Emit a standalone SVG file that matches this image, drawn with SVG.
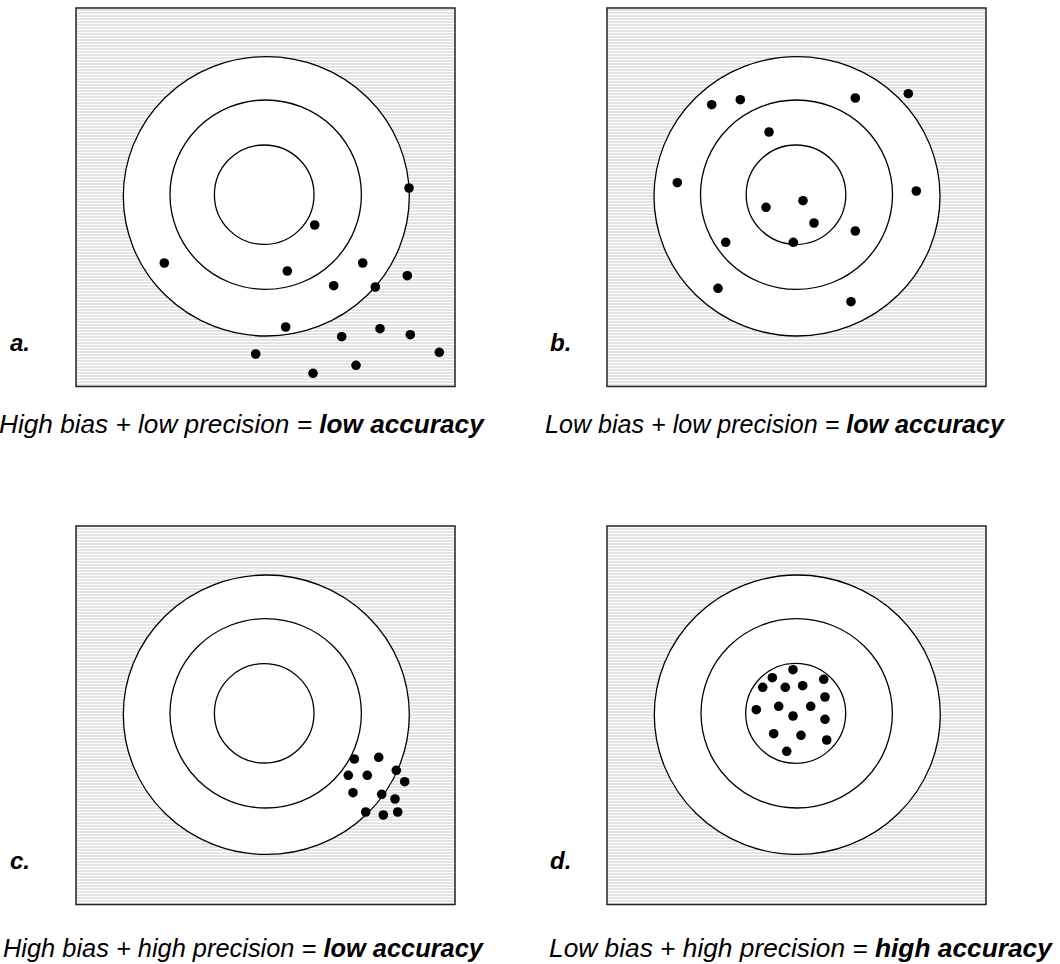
<svg xmlns="http://www.w3.org/2000/svg" width="1060" height="964" viewBox="0 0 1060 964">
<style>
.box{fill:url(#stripes);stroke:#222;stroke-width:1.5}
.ring{fill:#fff;stroke:#000;stroke-width:1.3}
.dot{fill:#000}
.lbl{font-family:"Liberation Sans",Arial,sans-serif;font-size:24px;font-weight:bold;font-style:italic;fill:#000}
.cap{font-family:"Liberation Sans",Arial,sans-serif;font-size:25px;font-style:italic;fill:#000}
.cap .b{font-weight:bold}
</style>
<defs>
<pattern id="stripes" patternUnits="userSpaceOnUse" x="0" y="0" width="10" height="3">
<rect width="10" height="3" fill="#e4e4e4"/>
<rect y="2" width="10" height="1" fill="#ffffff"/>
</pattern>
</defs>
<rect width="1060" height="964" fill="#fff"/>
<g id="panel-a">
<rect class="box" x="76" y="8" width="379" height="378.5"/>
<ellipse class="ring" cx="266.3" cy="196.3" rx="143" ry="139.7"/>
<ellipse class="ring" cx="265.7" cy="194.7" rx="95.7" ry="94.7"/>
<ellipse class="ring" cx="264.2" cy="194.7" rx="49.8" ry="49.7"/>
<g class="dot">
<circle cx="409" cy="188" r="4.8"/><circle cx="314.7" cy="225" r="4.8"/><circle cx="164.3" cy="263" r="4.8"/>
<circle cx="287.3" cy="271" r="4.8"/><circle cx="362.7" cy="263" r="4.8"/><circle cx="407.3" cy="275.7" r="4.8"/>
<circle cx="333.7" cy="285.7" r="4.8"/><circle cx="375.3" cy="287" r="4.8"/><circle cx="285.7" cy="327" r="4.8"/>
<circle cx="380" cy="328.7" r="4.8"/><circle cx="341.7" cy="336.7" r="4.8"/><circle cx="410.3" cy="334.7" r="4.8"/>
<circle cx="255.7" cy="354" r="4.8"/><circle cx="439.3" cy="352.3" r="4.8"/><circle cx="356" cy="365.3" r="4.8"/>
<circle cx="313" cy="373.3" r="4.8"/>
</g>
<text class="lbl" x="10" y="351">a.</text>
<text class="cap" x="-1" y="433" style="font-size:26.2px">High bias + low precision = <tspan class="b">low accuracy</tspan></text>
</g>
<g id="panel-b">
<rect class="box" x="607" y="8" width="379" height="378.5"/>
<ellipse class="ring" cx="797" cy="196.3" rx="143" ry="139.7"/>
<ellipse class="ring" cx="796.5" cy="194.7" rx="96" ry="94.7"/>
<ellipse class="ring" cx="796" cy="194.7" rx="49.8" ry="49.7"/>
<g class="dot">
<circle cx="711.7" cy="104.7" r="4.8"/><circle cx="740.3" cy="99.7" r="4.8"/><circle cx="855.3" cy="98" r="4.8"/>
<circle cx="908.3" cy="93.7" r="4.8"/><circle cx="769" cy="132" r="4.8"/><circle cx="677.3" cy="182.7" r="4.8"/>
<circle cx="916.3" cy="191" r="4.8"/><circle cx="803" cy="200.7" r="4.8"/><circle cx="766" cy="207.3" r="4.8"/>
<circle cx="814" cy="223" r="4.8"/><circle cx="855.3" cy="231" r="4.8"/><circle cx="725.7" cy="242.3" r="4.8"/>
<circle cx="793.3" cy="242.3" r="4.8"/><circle cx="718" cy="288.3" r="4.8"/><circle cx="851" cy="301.7" r="4.8"/>
</g>
<text class="lbl" x="550" y="351">b.</text>
<text class="cap" x="545" y="433" style="font-size:25.1px">Low bias + low precision = <tspan class="b">low accuracy</tspan></text>
</g>
<g id="panel-c">
<rect class="box" x="76" y="526" width="379" height="378.5"/>
<ellipse class="ring" cx="266.3" cy="714.7" rx="143" ry="139.7"/>
<ellipse class="ring" cx="265.7" cy="713.3" rx="95.7" ry="94.7"/>
<ellipse class="ring" cx="264.2" cy="713.3" rx="49.8" ry="49.7"/>
<g class="dot">
<circle cx="354.3" cy="759" r="4.8"/><circle cx="378.7" cy="757.3" r="4.8"/><circle cx="348.3" cy="775.3" r="4.8"/>
<circle cx="367.3" cy="775.3" r="4.8"/><circle cx="396.3" cy="770.3" r="4.8"/><circle cx="404.7" cy="781.7" r="4.8"/>
<circle cx="353" cy="792.7" r="4.8"/><circle cx="381.7" cy="794.3" r="4.8"/><circle cx="395" cy="799" r="4.8"/>
<circle cx="365.7" cy="812" r="4.8"/><circle cx="383.3" cy="815" r="4.8"/><circle cx="397.7" cy="812" r="4.8"/>
</g>
<text class="lbl" x="10" y="869">c.</text>
<text class="cap" x="3" y="957" style="font-size:25.4px">High bias + high precision = <tspan class="b">low accuracy</tspan></text>
</g>
<g id="panel-d">
<rect class="box" x="607" y="526" width="379" height="378.5"/>
<ellipse class="ring" cx="797.3" cy="714.7" rx="143" ry="139.7"/>
<ellipse class="ring" cx="796.7" cy="713.3" rx="95.7" ry="94.7"/>
<ellipse class="ring" cx="795.7" cy="713.3" rx="50" ry="50"/>
<g class="dot">
<circle cx="793" cy="669.7" r="4.8"/><circle cx="772.3" cy="677.7" r="4.8"/><circle cx="823.7" cy="679.3" r="4.8"/>
<circle cx="762.7" cy="687.3" r="4.8"/><circle cx="785.3" cy="687.3" r="4.8"/><circle cx="802.7" cy="685.7" r="4.8"/>
<circle cx="825" cy="697" r="4.8"/><circle cx="756.3" cy="709.7" r="4.8"/><circle cx="778.7" cy="706.3" r="4.8"/>
<circle cx="810.7" cy="706.3" r="4.8"/><circle cx="793" cy="716" r="4.8"/><circle cx="825" cy="719.3" r="4.8"/>
<circle cx="773.7" cy="733.7" r="4.8"/><circle cx="801" cy="735.3" r="4.8"/><circle cx="826.7" cy="740" r="4.8"/>
<circle cx="786.7" cy="751.3" r="4.8"/>
</g>
<text class="lbl" x="550" y="869">d.</text>
<text class="cap" x="549" y="957" style="font-size:26.3px">Low bias + high precision = <tspan class="b">high accuracy</tspan></text>
</g>
<g id="connectors"/>
</svg>
